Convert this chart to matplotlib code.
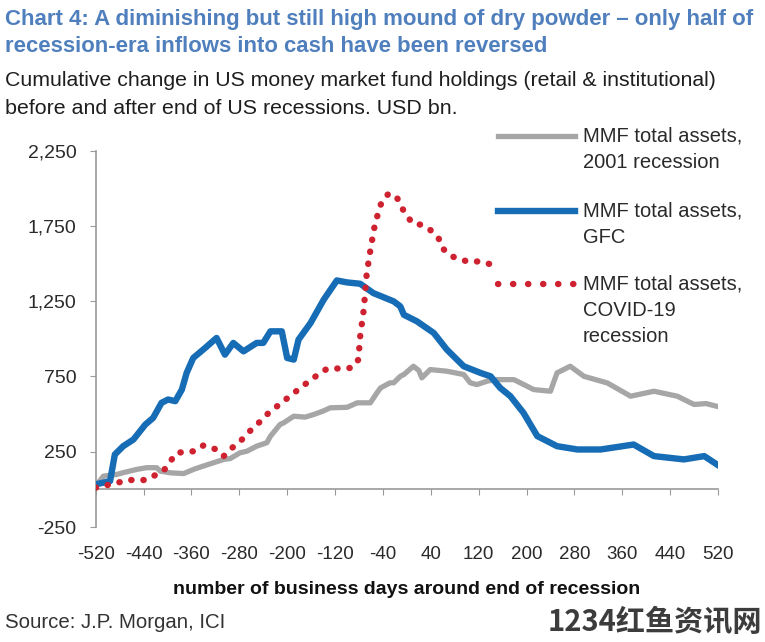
import matplotlib
matplotlib.use("Agg")
import matplotlib.pyplot as plt
from matplotlib.lines import Line2D

# cumulative change in MMF holdings, USD bn
x_2001 = [-520, -507, -485, -474, -451, -435, -418, -412, -395, -373, -355, -340, -323,
          -306, -295, -279, -267, -251, -234, -228, -212, -206, -189, -170, -156, -140,
          -128, -100, -83, -61, -50, -44, -28, -22, -11, -5, 11, 20, 25, 39, 67, 95,
          106, 117, 135, 151, 179, 212, 240, 251, 273, 296, 335, 374, 413, 452, 480,
          500, 518]
y_2001 = [22, 88, 99, 111, 133, 144, 144, 121, 110, 105, 135, 155, 177,
          199, 205, 243, 254, 287, 310, 353, 431, 442, 486, 480, 497, 520,
          542, 545, 575, 575, 641, 674, 708, 708, 751, 763, 818, 790, 741, 796, 785, 763,
          708, 696, 720, 729, 729, 663, 652, 774, 818, 751, 707, 619, 652, 619, 564,
          570, 552]

x_gfc = [-520, -496, -488, -474, -457, -437, -424, -410, -399, -387, -376, -368, -357,
         -337, -318, -304, -290, -273, -251, -240, -228, -209, -200, -189, -181, -161,
         -139, -117, -100, -78, -56, -22, -11, -5, 17, 45, 67, 95, 123, 140, 156, 173,
         195, 218, 251, 285, 324, 379, 413, 463, 497, 518]
y_gfc = [33, 55, 232, 287, 331, 431, 475, 575, 597, 586, 663, 774, 873,
         940, 1006, 895, 973, 917, 973, 973, 1050, 1050, 873, 862, 995, 1105,
         1260, 1388, 1375, 1366, 1304, 1249, 1216, 1160, 1116, 1039, 928, 818, 774, 751, 674, 619,
         508, 354, 287, 265, 265, 298, 221, 199, 221, 166]

x_covid = [-520, -488, -465, -437, -407, -385, -354, -340, -318, -306, -292, -278, -267,
           -253, -231, -206, -178, -156, -134, -92, -81, -78, -72, -67, -60, -53, -42,
           -30, -16, -8, 9, 25, 39, 53, 59, 76, 101, 123, 143, 156]
y_covid = [11, 40, 62, 62, 121, 243, 254, 292, 265, 221, 276, 320, 371,
           420, 508, 586, 674, 741, 800, 807, 862, 1017, 1194, 1437, 1613, 1768, 1912,
           1967, 1934, 1868, 1768, 1757, 1724, 1669, 1603, 1547, 1514, 1514, 1492, 1503]

xticks = list(range(-520, 521, 80))
yticks = [-250, 250, 750, 1250, 1750, 2250]
ytick_labels = ["-250", "250", "750", "1,250", "1,750", "2,250"]
labels = ["MMF total assets,\n2001 recession", "MMF total assets,\nGFC",
          "MMF total assets,\nCOVID-19\nrecession"]

W, H = 765, 642
GRAY = "#a6a6a6"
BLUE = "#166cb5"
RED = "#cf2230"
TITLE = "#4f7fbc"
SANS = ["Liberation Sans", "DejaVu Sans"]
NARROW = ["Liberation Sans Narrow", "Liberation Sans", "DejaVu Sans"]

fig = plt.figure(figsize=(W / 100, H / 100), dpi=100)
fig.patch.set_facecolor("white")
renderer = fig.canvas.get_renderer()


def fit_text(x_px, y_px, s, width_px, ha="left", **kw):
    t = fig.text(x_px / W, 1 - y_px / H, s, fontsize=10, ha=ha, va="center", **kw)
    w = t.get_window_extent(renderer).width
    t.set_fontsize(10 * width_px / w)
    return t


ax = fig.add_axes([95.7 / W, 1 - 527 / H, (718 - 95.7) / W, (527 - 150.7) / H])
ax.plot(x_2001, y_2001, color=GRAY, lw=3.8, solid_joinstyle="round", zorder=2)
ax.plot(x_gfc, y_gfc, color=BLUE, lw=4.6, solid_joinstyle="round", zorder=3)
ax.plot(x_covid, y_covid, color=RED, lw=4.6, linestyle=(0, (0.05, 1.85)),
        dash_capstyle="round", zorder=4)

ax.set_xlim(-520, 520)
ax.set_ylim(-250, 2250)
for s in ["top", "right"]:
    ax.spines[s].set_visible(False)
ax.spines["bottom"].set_position(("data", 0))
for s in ["left", "bottom"]:
    ax.spines[s].set_color("#9a9a9a")
    ax.spines[s].set_linewidth(1.2)
ax.set_xticks(xticks)
ax.set_xticklabels([str(v) for v in xticks])
ax.set_yticks(yticks)
ax.set_yticklabels(ytick_labels)
ax.tick_params(axis="x", direction="out", length=4, color="#9a9a9a", pad=37,
               labelsize=13.5, labelcolor="#2a2a2a")
ax.tick_params(axis="y", direction="out", length=4, color="#9a9a9a", pad=10,
               labelsize=14, labelcolor="#2a2a2a")
for lab in ax.get_xticklabels() + ax.get_yticklabels():
    lab.set_family(SANS)

# titles
fit_text(5, 19, "Chart 4: A diminishing but still high mound of dry powder \u2013 only half of",
         752, color=TITLE, weight="bold", family=NARROW)
fit_text(5, 47, "recession-era inflows into cash have been reversed",
         543, color=TITLE, weight="bold", family=NARROW)
fit_text(5, 81, "Cumulative change in US money market fund holdings (retail & institutional)",
         713, color="#1e1e1e", family=SANS)
fit_text(5, 108, "before and after end of US recessions. USD bn.",
         455, color="#1e1e1e", family=SANS)

# legend
leg_y = [136, 211, 284]
styles = [dict(color=GRAY, lw=3.8), dict(color=BLUE, lw=4.6),
          dict(color=RED, lw=4.6, linestyle=(0, (0.05, 2.3)), dash_capstyle="round")]
for yy, lab, st in zip(leg_y, labels, styles):
    fig.add_artist(Line2D([498 / W, 575 / W], [1 - yy / H, 1 - yy / H], **st))
    lines = lab.split("\n")
    for i, line in enumerate(lines):
        fig.text(583 / W, 1 - (yy + 26.5 * i) / H, line, fontsize=14.5, va="center",
                 ha="left", color="#2a2a2a", family=SANS)

fit_text(407, 590, "number of business days around end of recession", 468,
         ha="center", color="#111111", weight="bold", family=SANS)
fit_text(5, 623, "Source: J.P. Morgan, ICI", 220, color="#333333", family=SANS)
fit_text(548, 622, "1234红鱼资讯网", 214, color="#3c3c3c", weight="bold",
         family=["Noto Sans CJK SC", "DejaVu Sans"])

fig.savefig("out.png", dpi=100, facecolor="white")
